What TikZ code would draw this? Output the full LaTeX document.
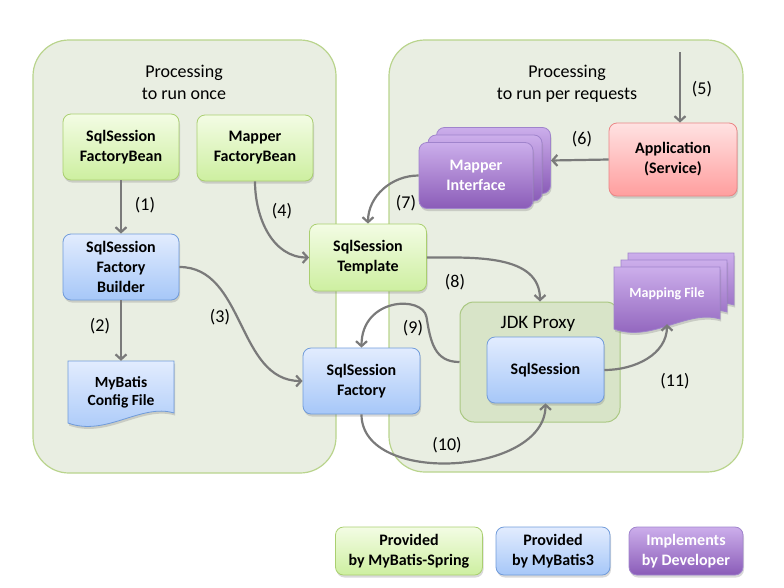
\documentclass[tikz,border=0pt]{standalone}
\usepackage{fontspec}
\setmainfont{Carlito}
\usetikzlibrary{arrows.meta,shadows}
\definecolor{panelfill}{RGB}{233,238,226}
\definecolor{panelline}{RGB}{185,212,140}
\definecolor{jdkfill}{RGB}{216,228,200}
\definecolor{jdkline}{RGB}{170,200,130}
\definecolor{springtop}{RGB}{243,252,228}
\definecolor{springbot}{RGB}{205,239,160}
\definecolor{springline}{RGB}{170,207,112}
\definecolor{batistop}{RGB}{226,236,254}
\definecolor{batisbot}{RGB}{166,199,248}
\definecolor{batisline}{RGB}{112,155,218}
\definecolor{devtop}{RGB}{204,174,235}
\definecolor{devbot}{RGB}{138,92,184}
\definecolor{devline}{RGB}{160,132,204}
\definecolor{apptop}{RGB}{255,226,226}
\definecolor{appbot}{RGB}{255,158,158}
\definecolor{appline}{RGB}{235,133,133}
\definecolor{flowgray}{RGB}{122,122,122}
\tikzset{
panel/.style={
	% the two big areas
	rectangle,
	rounded corners=36pt,
	fill=panelfill,
	draw=panelline,
	line width=1.2pt
},
box/.style={
	% The shape:
	rectangle,
	rounded corners=8pt,
	% The size:
	minimum width=116pt,
	minimum height=66pt,
	line width=0.8pt,
	align=center,
	% Font
	font=\bfseries\fontsize{16}{20}\selectfont,
	drop shadow={shadow xshift=1pt,shadow yshift=-2.5pt,opacity=.3}
},
spring box/.style={box,draw=springline,top color=springtop,bottom color=springbot},
batis box/.style={box,draw=batisline,top color=batistop,bottom color=batisbot},
dev box/.style={box,draw=devline,top color=devtop,bottom color=devbot,text=white},
app box/.style={box,draw=appline,top color=apptop,bottom color=appbot},
batis sheet/.style={draw=batisline,line width=0.8pt,top color=batistop,bottom color=batisbot,
	drop shadow={shadow xshift=1pt,shadow yshift=-2.5pt,opacity=.3}},
dev sheet/.style={draw=devline,line width=0.8pt,top color=devtop,bottom color=devbot,
	drop shadow={shadow xshift=1pt,shadow yshift=-2.5pt,opacity=.3}},
sheet text/.style={minimum width=106pt,align=center,font=\bfseries\fontsize{15.5}{18}\selectfont},
docsheet/.pic={
	\path[#1] (-53,-34) -- (53,-34) -- (53,18)
		.. controls (20,8) and (-15,42) .. (-53,28) -- cycle;
},
flow/.style={draw=flowgray,line width=2.2pt,-{Straight Barb[length=5pt,width=11pt]}},
num/.style={font=\fontsize{18}{20}\selectfont},
title/.style={align=center,font=\fontsize{18}{22}\selectfont}
}

\begin{document}
\begin{tikzpicture}[x=1pt,y=-1pt]
	\useasboundingbox (0,0) rectangle (784,587);
	% areas
	\node[panel,minimum width=303pt,minimum height=433pt] (once) at (184.5,256.5) {};
	\node[panel,minimum width=354pt,minimum height=432pt] (perreq) at (566,256) {};
	\node[title] (oncet) at (184,82) {Processing\\to run once};
	\node[title] (perreqt) at (567,84) {Processing\\to run per requests};

	% run once
	\node[spring box] (sfb) at (121,147) {SqlSession\\FactoryBean};
	\node[spring box] (mfb) at (255,148) {Mapper\\FactoryBean};
	\node[batis box] (bld) at (121,267) {SqlSession\\Factory\\Builder};
	\pic at (121,395) {docsheet={batis sheet}};
	\node[sheet text,minimum height=62pt] (cfg) at (121,392) {MyBatis\\Config File};

	% per request
	\node[spring box,minimum width=117pt,minimum height=67pt] (tpl) at (368,257.5) {SqlSession\\Template};
	\node[batis box,minimum width=117pt] (fac) at (361.5,381) {SqlSession\\Factory};
	\node[rectangle,rounded corners=14pt,minimum width=160pt,minimum height=120pt,
		fill=jdkfill,draw=jdkline,line width=1pt] (jdk) at (540,362) {};
	\node[num,font=\fontsize{19}{20}\selectfont] (jdkt) at (538,324) {JDK Proxy};
	\node[batis box,minimum width=117pt] (ss) at (545.5,370) {SqlSession};
	\node[app box,minimum width=128pt,minimum height=73pt] (app) at (673,159.5) {Application\\(Service)};
	\node[dev box,minimum width=114pt] (mi3) at (493.5,160.5) {};
	\node[dev box,minimum width=114pt] (mi2) at (485,168) {};
	\node[dev box,minimum width=114pt] (mi) at (476,175.5) {Mapper\\Interface};
	\pic at (681,287) {docsheet={dev sheet}};
	\pic at (674,294) {docsheet={dev sheet}};
	\pic at (667,301) {docsheet={dev sheet}};
	\node[sheet text,text=white,minimum height=60pt,font=\bfseries\fontsize{14}{17}\selectfont] (mf) at (667,294) {Mapping File};
	\coordinate (user) at (680,52);

	% flows
	\draw[flow] (sfb) -- (bld);
	\draw[flow] (bld) -- (cfg);
	\draw[flow] (bld.east) to[out=0,in=180] (fac.west);
	\draw[flow] (mfb.south) to[out=-90,in=180] (tpl.west);
	\draw[flow] (user) -- (user |- app.north);
	\draw[flow] (app.west) -- (mi3.east);
	\draw[flow] (mi.west) to[out=180,in=90] (tpl.north);
	\draw[flow] (tpl.east) to[out=0,in=90] (jdk.north);
	\draw[flow] (jdk.west) .. controls +(-25,0) and +(4,25) .. ++(-33,-45)
		.. controls +(-4,-22) and +(0,-50) .. (fac.north);
	\draw[flow] (fac.south) to[out=-90,in=-90] (ss.south);
	\draw[flow] (ss.east) to[out=0,in=-90] (mf.south);

	% step numbers
	\node[num] (n1) at (145,205) {(1)};
	\node[num] (n2) at (100,326) {(2)};
	\node[num] (n3) at (220,317) {(3)};
	\node[num] (n4) at (282,211) {(4)};
	\node[num] (n5) at (702,89) {(5)};
	\node[num] (n6) at (582,139) {(6)};
	\node[num] (n7) at (406,203) {(7)};
	\node[num] (n8) at (455,282) {(8)};
	\node[num] (n9) at (413,328) {(9)};
	\node[num] (n10) at (447,445) {(10)};
	\node[num] (n11) at (675,381) {(11)};

	% legend
	\node[spring box,minimum width=147pt,minimum height=48pt] (lspring) at (409,551) {Provided\\by MyBatis-Spring};
	\node[batis box,minimum width=114pt,minimum height=48pt] (lbatis) at (553,551) {Provided\\by MyBatis3};
	\node[dev box,minimum width=114pt,minimum height=48pt] (ldev) at (686,551) {Implements\\by Developer};
\end{tikzpicture}
\end{document}
